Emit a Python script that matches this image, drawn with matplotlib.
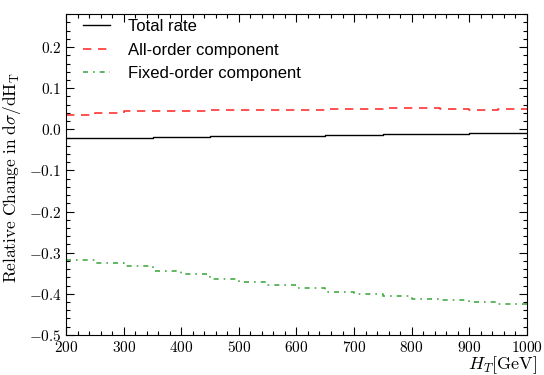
import numpy as np
import matplotlib
matplotlib.use("Agg")
import matplotlib.pyplot as plt
from matplotlib.ticker import MultipleLocator, FuncFormatter

plt.rcParams['mathtext.fontset'] = 'cm'
plt.rcParams['font.family'] = 'Liberation Sans'

# bin edges in H_T [GeV]
edges = np.arange(200, 1001, 50)

# relative change per bin
total = [-0.021, -0.021, -0.020, -0.019, -0.018, -0.017, -0.016, -0.015,
         -0.015, -0.014, -0.013, -0.012, -0.012, -0.011, -0.010, -0.010]
all_order = [0.036, 0.040, 0.044, 0.044, 0.045, 0.046, 0.047, 0.047,
             0.048, 0.049, 0.050, 0.051, 0.051, 0.050, 0.048, 0.050]
fixed_order = [-0.318, -0.324, -0.333, -0.344, -0.353, -0.363, -0.372, -0.379,
               -0.387, -0.395, -0.400, -0.406, -0.412, -0.415, -0.420, -0.424]


def stepped(vals):
    return np.append(vals, vals[-1])


fig, ax = plt.subplots(figsize=(5.44, 3.75), dpi=100)
fig.subplots_adjust(left=0.122, right=0.968, top=0.962, bottom=0.107)

ax.plot(edges, stepped(total), drawstyle='steps-post', color='black', lw=1.0,
        label='Total rate')
ax.plot(edges, stepped(all_order), drawstyle='steps-post', color='#ff3333', lw=1.2,
        ls=(0, (5, 4)), label='All-order component')
ax.plot(edges, stepped(fixed_order), drawstyle='steps-post', color='#44aa44', lw=1.2,
        ls=(0, (3, 3, 1, 3)), label='Fixed-order component')

ax.set_xlim(200, 1000)
ax.set_ylim(-0.5, 0.28)

ax.xaxis.set_major_locator(MultipleLocator(100))
ax.xaxis.set_minor_locator(MultipleLocator(20))
ax.yaxis.set_major_locator(MultipleLocator(0.1))
ax.yaxis.set_minor_locator(MultipleLocator(0.02))
ax.xaxis.set_major_formatter(FuncFormatter(lambda v, p: r'$%d$' % v))
ax.yaxis.set_major_formatter(FuncFormatter(lambda v, p: r'$%.1f$' % (0 if abs(v) < 1e-9 else v)))
ax.tick_params(which='both', direction='in', top=True, right=True, labelsize=11)
ax.tick_params(which='major', length=6, width=0.8)
ax.tick_params(which='minor', length=3, width=0.8)

ax.set_ylabel(r'$\mathrm{Relative\ Change\ in\ d}\sigma/\mathrm{dH_T}$', fontsize=12.5)
ax.yaxis.set_label_coords(-0.095, 0.49)
ax.set_xlabel(r'$H_T[\mathrm{GeV}]$', fontsize=13, ha='right', va='top')
ax.xaxis.set_label_coords(1.022, -0.062)

ax.legend(loc='upper left', bbox_to_anchor=(0.025, 1.0), frameon=False, fontsize=12,
          handlelength=1.6, handletextpad=1.1, borderpad=0.2, borderaxespad=0.1,
          labelspacing=0.5)

fig.savefig('out.png', dpi=100)
